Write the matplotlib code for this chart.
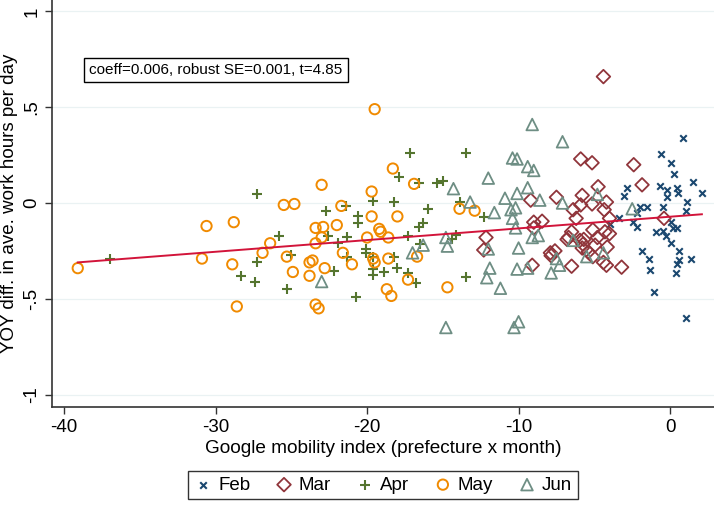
import matplotlib
matplotlib.use("Agg")
import matplotlib.pyplot as plt
import numpy as np

plt.rcParams['font.family'] = ['Liberation Sans', 'DejaVu Sans']

# values (mobility index, YOY diff in hours)
feb_x = [0.86, -0.6, 0.07, 0.26, 1.5, -2.85, -3.05, -0.65, -0.2, 0.45, 0.55, 2.1, -0.2, 1.1,
         -2.0, -1.5, -0.45, 1.05, -2.2, -2.45, -2.2, -0.9, -0.45, -0.25, 0.05, 0.2, 0.45, 0.05,
         -1.85, -1.4, 0.6, 1.4, 0.6, 0.45, -1.3, 0.4, -1.05, 1.05, -3.4, -3.95]
feb_y = [0.34, 0.255, 0.21, 0.15, 0.11, 0.08, 0.035, 0.09, 0.07, 0.08, 0.05, 0.05, 0.03, 0.005,
         -0.02, -0.02, -0.02, -0.04, -0.05, -0.10, -0.125, -0.15, -0.145, -0.17, -0.10, -0.13, -0.13, -0.21,
         -0.25, -0.29, -0.25, -0.29, -0.30, -0.32, -0.35, -0.365, -0.465, -0.60, -0.08, -0.11]

mar_x = [-4.4, -5.9, -5.15, -2.4, -1.85, -7.5, -5.8, -4.75, -5.15, -5.9, -4.2, -6.4, -9.2, -4.35,
         -6.2, -4.0, -9.0, -8.45, -9.0, -6.5, -5.1, -4.3, -4.0, -5.7, -6.8, -4.8, -12.15, -0.4,
         -12.3, -7.9, -4.15, -7.85, -9.1, -6.7, -5.75, -5.8, -4.95, -5.4, -5.1, -4.4, -4.2, -6.5,
         -3.2, -5.95, -7.6]
mar_y = [0.66, 0.23, 0.21, 0.20, 0.095, 0.03, 0.04, 0.085, -0.005, -0.01, 0.005, -0.035, 0.015, -0.035,
         -0.08, -0.08, -0.10, -0.095, -0.13, -0.15, -0.14, -0.15, -0.16, -0.19, -0.19, -0.18, -0.18, -0.08,
         -0.245, -0.26, -0.23, -0.275, -0.325, -0.18, -0.215, -0.235, -0.22, -0.255, -0.28, -0.31, -0.325, -0.33,
         -0.335, -0.195, -0.25]

apr_x = [-37.0, -28.3, -27.3, -27.4, -25.3, -25.0, -22.2, -21.3, -20.7, -27.3, -22.7, -21.4, -25.8,
         -22.6, -21.3, -21.9, -20.6, -20.6, -19.6, -18.2, -20.1, -20.1, -19.6, -19.6, -19.6, -18.9,
         -18.2, -18.0, -17.3, -16.8, -13.5, -17.2, -13.5, -17.9, -15.4, -15.0, -16.6, -16.0, -13.9,
         -12.3, -16.3, -16.6, -17.3, -16.5, -14.4, -14.1]
apr_y = [-0.29, -0.38, -0.31, -0.41, -0.45, -0.27, -0.355, -0.28, -0.49, 0.045, -0.04, -0.015, -0.17,
         -0.17, -0.18, -0.21, -0.07, -0.105, 0.01, 0.005, -0.24, -0.26, -0.28, -0.345, -0.375, -0.36,
         -0.28, -0.34, -0.365, -0.42, -0.385, 0.26, 0.26, 0.135, 0.105, 0.115, 0.105, -0.03, 0.005,
         -0.075, -0.105, -0.125, -0.17, -0.215, -0.19, -0.165]

may_x = [-39.1, -30.6, -28.8, -30.9, -28.9, -28.6, -26.4, -26.9, -25.3, -24.9, -23.4, -22.9, -22.0,
         -23.4, -23.0, -23.8, -23.6, -22.8, -23.8, -23.4, -23.2, -21.6, -21.0, -19.7, -20.0, -19.2,
         -19.1, -18.6, -19.6, -19.5, -18.6, -18.7, -18.4, -18.0, -19.5, -18.3, -16.9, -19.7, -13.9,
         -12.9, -23.0, -25.5, -24.8, -21.7, -16.7, -17.3, -14.7]
may_y = [-0.34, -0.12, -0.10, -0.29, -0.32, -0.54, -0.21, -0.26, -0.28, -0.36, -0.13, -0.125, -0.115,
         -0.21, -0.18, -0.31, -0.30, -0.34, -0.38, -0.53, -0.55, -0.26, -0.32, -0.07, -0.18, -0.135,
         -0.15, -0.18, -0.29, -0.31, -0.29, -0.45, -0.485, -0.07, 0.49, 0.18, 0.10, 0.06, -0.03,
         -0.04, 0.095, -0.01, -0.005, -0.015, -0.28, -0.40, -0.44]

jun_x = [-23.0, -9.1, -7.1, -10.4, -10.1, -9.4, -9.0, -12.0, -14.3, -13.2, -10.9, -10.1, -9.4, -8.6,
         -10.5, -10.2, -11.6, -7.1, -4.8, -2.5, -10.4, -10.2, -9.1, -8.7, -14.8, -14.7, -16.3, -17.0,
         -12.0, -10.0, -6.4, -4.4, -11.9, -12.1, -11.2, -10.1, -9.4, -7.85, -7.5, -7.3, -5.5, -14.8,
         -10.3, -10.0]
jun_y = [-0.41, 0.41, 0.32, 0.235, 0.23, 0.19, 0.17, 0.13, 0.075, 0.005, 0.025, 0.05, 0.08, 0.015,
         -0.035, -0.025, -0.05, 0.0, 0.045, -0.03, -0.08, -0.13, -0.18, -0.17, -0.18, -0.225, -0.22, -0.26,
         -0.24, -0.235, -0.195, -0.26, -0.34, -0.39, -0.445, -0.345, -0.34, -0.365, -0.29, -0.325, -0.28, -0.65,
         -0.65, -0.62]

fit_slope = 0.0061
fit_icpt = -0.0715
note = "coeff=0.006, robust SE=0.001, t=4.85"

fig = plt.figure(figsize=(7.14, 5.05), dpi=100)
ax = fig.add_axes([52/714, 1 - 407/505, 1 - 52/714, 407/505])

for t in [1, 0.5, 0, -0.5, -1]:
    ax.axhline(t, color='#eaf2f3', lw=0.9, zorder=0)

ax.scatter(feb_x, feb_y, marker='x', s=22, color='#1a476f', linewidths=1.5, label='Feb', zorder=3)
ax.scatter(mar_x, mar_y, marker='D', s=48, facecolors='none', edgecolors='#90353b', linewidths=1.3,
           label='Mar', zorder=3)
ax.scatter(apr_x, apr_y, marker='+', s=45, color='#55752f', linewidths=1.5, label='Apr', zorder=3)
ax.scatter(may_x, may_y, marker='o', s=55, facecolors='none', edgecolors='#f08a00', linewidths=1.4,
           label='May', zorder=3)
ax.scatter(jun_x, jun_y, marker='^', s=70, facecolors='none', edgecolors='#6e8e84', linewidths=1.3,
           label='Jun', zorder=3)

allx = np.array(feb_x + mar_x + apr_x + may_x + jun_x)
xs = np.array([allx.min(), allx.max()])
ax.plot(xs, fit_icpt + fit_slope * xs, color='#d2143a', lw=1.4, zorder=4)

ax.text(-30.0, 0.695, note, fontsize=11, ha='center', va='center',
        bbox=dict(boxstyle='square,pad=0.35', fc='white', ec='black', lw=1))

ax.set_xlim(-40.8, 2.9)
ax.set_ylim(-1.065, 1.06)
ax.set_xticks([-40, -30, -20, -10, 0])
ax.set_xticklabels(['-40', '-30', '-20', '-10', '0'])
ax.set_yticks([1, 0.5, 0, -0.5, -1])
ax.set_yticklabels(['1', '.5', '0', '-.5', '-1'], rotation=90, va='center')
ax.tick_params(labelsize=13.5, length=5, width=1, color='#333333', direction='out')
for s in ['top', 'right']:
    ax.spines[s].set_visible(False)
for s in ['left', 'bottom']:
    ax.spines[s].set_color('#333333')
    ax.spines[s].set_linewidth(1.2)

ax.set_xlabel('Google mobility index (prefecture x month)', fontsize=13.7, labelpad=3)
ax.set_ylabel('YOY diff. in ave. work hours per day', fontsize=13.5, labelpad=4)

leg = fig.legend(loc='center', bbox_to_anchor=(383/714, 1 - 485/505), ncol=5, fontsize=13.5,
                 frameon=True, fancybox=False, edgecolor='black', handletextpad=0.3,
                 columnspacing=1.3, borderpad=0.3, handlelength=1.0)
leg.get_frame().set_linewidth(1)

fig.savefig('out.png', dpi=100)
